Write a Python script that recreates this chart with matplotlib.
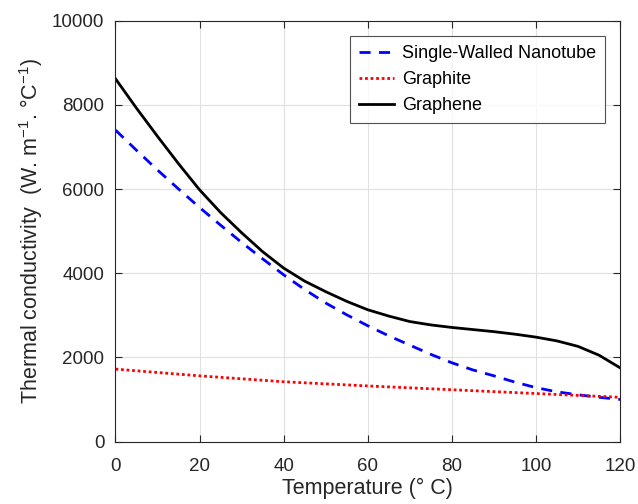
import matplotlib
matplotlib.use("Agg")
import matplotlib.pyplot as plt

plt.rcParams['font.family'] = ['Liberation Sans', 'DejaVu Sans']
plt.rcParams['mathtext.fontset'] = 'custom'
plt.rcParams['mathtext.rm'] = 'Liberation Sans'
plt.rcParams['mathtext.it'] = 'Liberation Sans:italic'

temp_dense = [0, 5, 10, 15, 20, 25, 30, 35, 40, 45, 50, 55, 60, 65, 70, 75, 80, 85, 90, 95, 100, 105, 110, 115, 120]
swnt = [7400, 6920, 6450, 6000, 5560, 5140, 4730, 4340, 3960, 3610, 3290, 3010, 2750, 2510, 2290, 2070, 1870, 1700, 1560, 1410, 1280, 1180, 1110, 1050, 1000]
graphene = [8620, 7920, 7250, 6600, 5980, 5440, 4960, 4510, 4120, 3810, 3560, 3330, 3130, 2980, 2850, 2770, 2710, 2660, 2610, 2550, 2480, 2390, 2260, 2050, 1750]
temp_graphite = [0, 10, 20, 30, 40, 50, 60, 70, 80, 90, 100, 110, 120]
graphite = [1720, 1640, 1560, 1490, 1420, 1370, 1320, 1275, 1230, 1185, 1140, 1095, 1050]

labels = ["Single-Walled Nanotube", "Graphite", "Graphene"]
xticks = [0, 20, 40, 60, 80, 100, 120]
yticks = [0, 2000, 4000, 6000, 8000, 10000]

fig = plt.figure(figsize=(6.38, 5.04), dpi=100)
ax = fig.add_axes([0.181, 0.124, 0.791, 0.835])

ax.plot(temp_dense, swnt, linestyle=(0, (4, 3)), color='#0000ff', lw=2, label=labels[0])
ax.plot(temp_graphite, graphite, linestyle=(0, (1, 1)), color='#ff0000', lw=2, label=labels[1])
ax.plot(temp_dense, graphene, linestyle='-', color='black', lw=2, label=labels[2])

ax.set_xlim(0, 120)
ax.set_ylim(0, 10000)
ax.set_xticks(xticks)
ax.set_yticks(yticks)
ax.grid(True, color='#e0e0e0', lw=0.8)
ax.set_axisbelow(True)
ax.tick_params(direction='in', top=True, right=True, labelsize=13.5, colors='#262626',
               length=5, width=0.8)
ax.tick_params(axis='x', pad=12)
ax.tick_params(axis='y', pad=8)
for s in ax.spines.values():
    s.set_color('#262626')
    s.set_linewidth(0.8)

ax.set_xlabel("Temperature (° C)", fontsize=15.5, color='#262626', labelpad=2)
ax.set_ylabel(r"Thermal conductivity  (W. m$^{-1}$. °C$^{-1}$)", fontsize=15.5, color='#262626', labelpad=5)

leg = ax.legend(loc='upper right', bbox_to_anchor=(0.970, 0.964), fontsize=13, frameon=True,
                fancybox=False, edgecolor='#262626', handlelength=1.9, borderpad=0.5,
                labelspacing=0.5, handletextpad=0.45, borderaxespad=0)
leg.get_frame().set_linewidth(0.8)

fig.savefig("out.png", dpi=100)
